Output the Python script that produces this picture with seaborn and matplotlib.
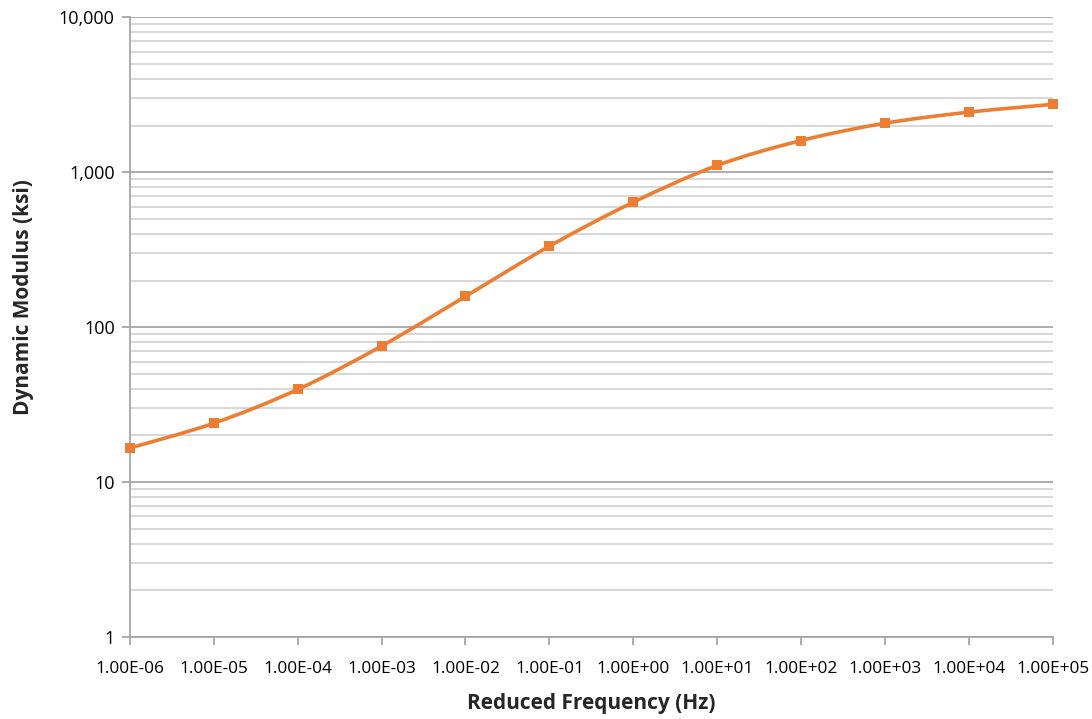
import numpy as np
import pandas as pd
import matplotlib
matplotlib.use("Agg")
import matplotlib.pyplot as plt
from matplotlib.path import Path
from matplotlib.patches import PathPatch
from matplotlib.ticker import FixedLocator, LogLocator, NullFormatter
import seaborn as sns

# Master curve: dynamic modulus vs reduced frequency
frequency_hz = [1e-6, 1e-5, 1e-4, 1e-3, 1e-2, 1e-1, 1e0, 1e1, 1e2, 1e3, 1e4, 1e5]
modulus_ksi = [16.6, 24.0, 39.6, 75.5, 158, 333, 640, 1105, 1600, 2070, 2440, 2740]

x_tick_labels = ["1.00E-06", "1.00E-05", "1.00E-04", "1.00E-03", "1.00E-02", "1.00E-01",
                 "1.00E+00", "1.00E+01", "1.00E+02", "1.00E+03", "1.00E+04", "1.00E+05"]
y_tick_values = [1, 10, 100, 1000, 10000]
y_tick_labels = ["1", "10", "100", "1,000", "10,000"]

ORANGE = "#ED7D31"
GRID_MAJOR = "#A6A6A6"
GRID_MINOR = "#D4D4D4"

sns.set_theme(style="white")
plt.rcParams["font.family"] = ["Open Sans", "DejaVu Sans"]

df = pd.DataFrame({"freq": frequency_hz, "modulus": modulus_ksi})

fig = plt.figure(figsize=(10.92, 7.19), dpi=100)
ax = fig.add_axes([0.119, 0.114, 0.845, 0.862])
ax.set_xscale("log")
ax.set_yscale("log")
ax.set_xlim(1e-6, 1e5)
ax.set_ylim(1, 10000)

# Smoothed connecting line: cubic Bezier segments built in log space
lx = np.log10(df["freq"].to_numpy())
ly = np.log10(df["modulus"].to_numpy())
n = len(lx)
verts = [(lx[0], ly[0])]
codes = [Path.MOVETO]
for i in range(n - 1):
    p0 = i - 1 if i > 0 else i
    p3 = i + 2 if i + 2 < n else i + 1
    c1 = (lx[i] + (lx[i + 1] - lx[p0]) / 6.0, ly[i] + (ly[i + 1] - ly[p0]) / 6.0)
    c2 = (lx[i + 1] - (lx[p3] - lx[i]) / 6.0, ly[i + 1] - (ly[p3] - ly[i]) / 6.0)
    verts += [c1, c2, (lx[i + 1], ly[i + 1])]
    codes += [Path.CURVE4] * 3
verts = np.power(10.0, np.array(verts))
ax.add_patch(PathPatch(Path(verts, codes), facecolor="none", edgecolor=ORANGE,
                       linewidth=2.6, zorder=3, capstyle="round", joinstyle="round"))

sns.scatterplot(data=df, x="freq", y="modulus", ax=ax, marker="s", s=55,
                color=ORANGE, edgecolor=ORANGE, linewidth=0, zorder=4, clip_on=False)

# Ticks and grid
ax.set_xticks(frequency_hz)
ax.set_xticklabels(x_tick_labels)
ax.xaxis.set_minor_locator(FixedLocator([]))
ax.set_yticks(y_tick_values)
ax.set_yticklabels(y_tick_labels)
ax.yaxis.set_minor_locator(LogLocator(base=10, subs=np.arange(2, 10), numticks=20))
ax.yaxis.set_minor_formatter(NullFormatter())

ax.grid(False)
ax.yaxis.grid(True, which="major", color=GRID_MAJOR, linewidth=1.3)
ax.yaxis.grid(True, which="minor", color=GRID_MINOR, linewidth=1.3)
ax.set_axisbelow(True)

for side in ["top", "right"]:
    ax.spines[side].set_visible(False)
for side in ["left", "bottom"]:
    ax.spines[side].set_color(GRID_MAJOR)
    ax.spines[side].set_linewidth(1.3)

ax.tick_params(axis="both", which="major", direction="out", length=6, width=1.3,
               color=GRID_MAJOR, labelcolor="black", bottom=True, left=True)
ax.tick_params(axis="y", which="major", labelsize=13, pad=5)
ax.tick_params(axis="x", which="major", labelsize=12.4, pad=11)
ax.tick_params(axis="y", which="minor", length=0, left=False)

ax.set_xlabel("Reduced Frequency (Hz)", fontsize=15, fontweight="bold", labelpad=12)
ax.set_ylabel("Dynamic Modulus (ksi)", fontsize=15, fontweight="bold")
ax.yaxis.set_label_coords(-0.104, 0.548)

fig.savefig("out.png", dpi=100, facecolor="white")
